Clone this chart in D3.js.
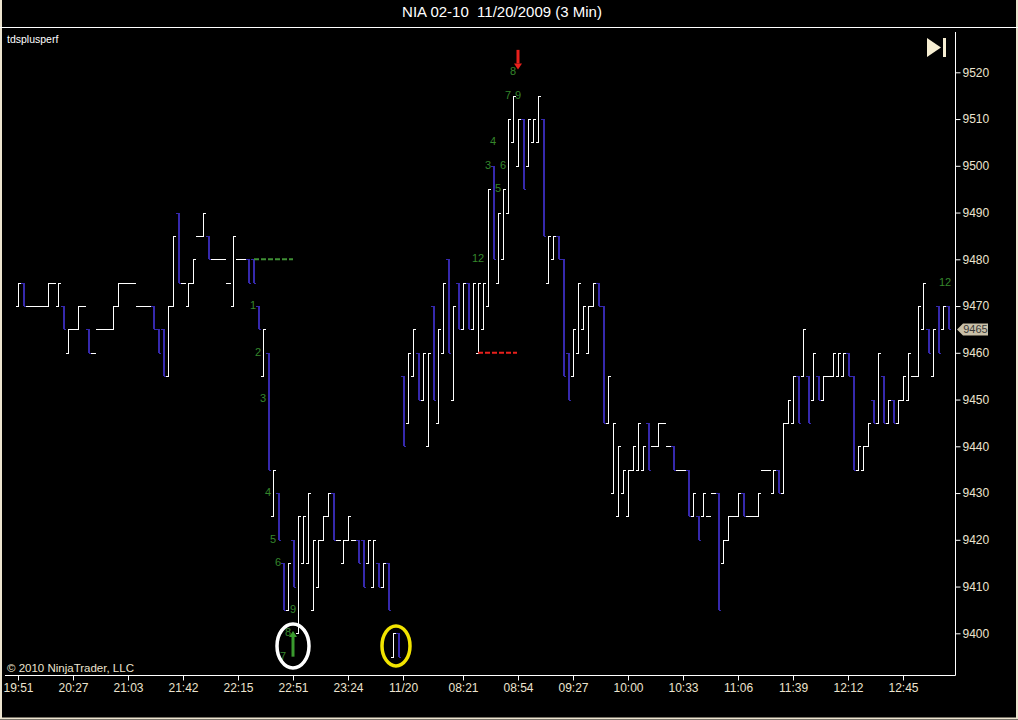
<!DOCTYPE html>
<html><head><meta charset="utf-8">
<script src="https://cdn.jsdelivr.net/npm/d3@7"></script>
<style>body{margin:0;background:#000;overflow:hidden}svg{display:block}text{font-family:"Liberation Sans",Arial,sans-serif}</style>
</head><body><svg id="c" width="1018" height="720"></svg>
<script>
const title = "NIA 02-10  11/20/2009 (3 Min)";
const indicatorName = "tdsplusperf";
const copyright = "\u00A9 2010 NinjaTrader, LLC";

const highs = [
9475,9475,9470,9470,9470,9470,9475,9475,9475,9470,
9465,9465,9470,9470,9465,9460,9465,9465,9465,9470,
9475,9475,9475,9475,9470,9470,9470,9470,9465,9465,
9470,9485,9490,9475,9475,9480,9485,9490,9485,9480,
9480,9480,9475,9485,9480,9480,9480,9480,9470,9465,
9460,9435,9430,9415,9415,9420,9425,9425,9430,9420,
9420,9425,9430,9430,9420,9420,9425,9420,9420,9420,
9420,9420,9415,9415,9415,9400,9400,9455,9460,9465,
9460,9460,9460,9470,9465,9475,9480,9470,9475,9475,
9475,9475,9475,9475,9495,9500,9490,9495,9510,9515,
9510,9510,9510,9510,9515,9510,9485,9485,9485,9480,
9460,9465,9475,9470,9470,9475,9475,9470,9455,9445,
9440,9435,9435,9440,9445,9440,9445,9440,9445,9445,
9440,9440,9435,9435,9435,9430,9425,9430,9425,9430,
9430,9420,9425,9425,9430,9430,9425,9425,9430,9435,
9435,9435,9435,9445,9450,9455,9455,9465,9455,9460,
9455,9455,9455,9460,9460,9460,9460,9455,9440,9440,
9445,9450,9460,9455,9450,9450,9450,9455,9460,9455,
9470,9475,9465,9465,9470,9470,9470];
const lows = [
9470,9470,9470,9470,9470,9470,9470,9475,9470,9465,
9460,9465,9465,9470,9460,9460,9465,9465,9465,9465,
9470,9475,9475,9475,9470,9470,9470,9465,9460,9455,
9455,9470,9475,9475,9470,9475,9485,9485,9480,9480,
9480,9480,9475,9470,9480,9480,9475,9475,9465,9455,
9435,9425,9420,9405,9405,9410,9400,9415,9415,9405,
9410,9420,9425,9420,9420,9415,9420,9420,9415,9410,
9415,9410,9410,9410,9405,9395,9395,9440,9445,9455,
9450,9450,9440,9450,9445,9460,9460,9450,9465,9465,
9465,9465,9460,9465,9470,9480,9475,9480,9490,9505,
9500,9495,9500,9505,9505,9485,9475,9480,9480,9455,
9450,9455,9460,9465,9460,9470,9470,9445,9445,9430,
9425,9430,9425,9435,9435,9435,9435,9440,9440,9445,
9440,9435,9435,9435,9425,9425,9420,9425,9425,9430,
9405,9415,9420,9425,9425,9425,9425,9425,9425,9435,
9435,9430,9430,9430,9445,9445,9445,9455,9445,9450,
9450,9450,9455,9455,9455,9455,9455,9435,9435,9435,
9440,9445,9445,9445,9445,9445,9445,9450,9450,9455,
9455,9465,9460,9455,9460,9465,9465];
const opens = [
9470,9475,9470,9470,9470,9470,9470,9475,9470,9470,
9460,9465,9465,9470,9465,9460,9465,9465,9465,9465,
9470,9475,9475,9475,9470,9470,9470,9470,9465,9465,
9455,9470,9490,9475,9470,9475,9485,9485,9485,9480,
9480,9480,9475,9470,9480,9480,9480,9480,9470,9455,
9460,9425,9430,9415,9405,9420,9400,9415,9415,9405,
9410,9420,9425,9430,9420,9415,9420,9420,9420,9420,
9415,9410,9415,9410,9415,9395,9400,9455,9445,9455,
9460,9450,9440,9470,9445,9460,9480,9450,9475,9465,
9475,9465,9460,9465,9470,9500,9475,9480,9490,9505,
9500,9510,9500,9505,9505,9510,9475,9480,9485,9480,
9460,9455,9460,9465,9460,9470,9475,9470,9445,9430,
9425,9430,9425,9435,9435,9435,9445,9440,9440,9445,
9440,9440,9435,9435,9435,9425,9425,9425,9425,9430,
9430,9415,9420,9425,9425,9430,9425,9425,9425,9435,
9435,9430,9435,9430,9445,9445,9455,9455,9455,9450,
9455,9450,9455,9455,9455,9455,9460,9455,9435,9435,
9440,9450,9445,9455,9445,9450,9445,9450,9450,9455,
9455,9465,9465,9455,9470,9465,9470];
const closes = [
9475,9470,9470,9470,9470,9470,9475,9475,9475,9465,
9465,9465,9470,9470,9460,9460,9465,9465,9465,9470,
9475,9475,9475,9475,9470,9470,9470,9465,9460,9455,
9470,9485,9475,9475,9475,9480,9485,9490,9480,9480,
9480,9480,9475,9485,9480,9480,9475,9475,9465,9465,
9435,9435,9420,9405,9415,9410,9425,9425,9430,9420,
9420,9425,9430,9420,9420,9420,9425,9420,9415,9410,
9420,9420,9410,9415,9405,9400,9395,9440,9460,9465,
9450,9460,9460,9450,9465,9475,9460,9470,9465,9475,
9465,9475,9475,9475,9495,9480,9490,9495,9510,9515,
9510,9495,9510,9510,9515,9485,9485,9485,9480,9455,
9450,9465,9475,9470,9470,9475,9470,9445,9455,9445,
9440,9435,9435,9440,9445,9440,9435,9440,9445,9445,
9440,9435,9435,9435,9425,9430,9420,9430,9425,9430,
9405,9420,9425,9425,9430,9425,9425,9425,9430,9435,
9435,9435,9430,9445,9450,9455,9445,9465,9445,9460,
9450,9455,9455,9460,9460,9460,9455,9435,9440,9440,
9445,9445,9460,9445,9450,9445,9450,9455,9460,9455,
9470,9475,9460,9465,9460,9470,9465];

const timeTickBars = [0,11,22,33,44,55,66,77,89,100,111,122,133,144,155,166,177];
const timeTickLabels = ["19:51","20:27","21:03","21:42","22:15","22:51","23:24","11/20","08:21","08:54","09:27","10:00","10:33","11:06","11:39","12:12","12:45"];
const priceTicks = [9400,9410,9420,9430,9440,9450,9460,9470,9480,9490,9500,9510,9520];
const lastPrice = 9465;

// TD sequential counts: label, bar index, price level
const countLabels = ["1","2","3","4","5","6","7","8","9","12","3","4","5","6","7","8","9","12"];
const countBars   = [47,48,49,50,51,52,53,54,55,92,94,95,96,97,98,99,100,185.4];
const countPrices = [9470,9460,9450,9430,9420,9415,9395,9400,9405,9480,9500,9505,9495,9500,9515,9520,9515,9475];

// TDST lines
const tdstStart = [47.2, 92];
const tdstEnd   = [55, 99.8];
const tdstPrice = [9480, 9460];
const tdstColor = ["#3f8f35", "#e8201c"];

// arrows: bar, tail price, head price
const arrowBars = [100, 55];
const arrowTail = [9524.8, 9395];
const arrowHead = [9520.6, 9400.5];
const arrowColor = ["#e8201c", "#3a9a2e"];

// highlight ellipses
const ringBars = [55, 75.6];
const ringPrices = [9397.3, 9397.3];
const ringColors = ["#ffffff", "#f2e400"];

const cream = "#ece4cf";
const svg = d3.select("#c");
svg.append("rect").attr("width",1018).attr("height",720).attr("fill","#000");

const x = d3.scaleLinear().domain([0, highs.length-1]).range([18, 948]);
const y = d3.scaleLinear().domain([9400, 9520]).range([633.3, 72.3]);

// frame
svg.append("rect").attr("x",1).attr("y",-2).attr("width",1016).attr("height",720.5)
  .attr("fill","none").attr("stroke",cream).attr("stroke-width",2);
svg.append("line").attr("x1",0).attr("x2",1018).attr("y1",27.5).attr("y2",27.5)
  .attr("stroke","#fff").attr("stroke-width",1.2);

svg.append("text").attr("x",502).attr("y",13).attr("text-anchor","middle").attr("dominant-baseline","middle")
  .attr("fill","#fff").attr("font-size",15).style("white-space","pre").text(title);
svg.append("text").attr("x",7).attr("y",40).attr("dominant-baseline","middle")
  .attr("fill","#fff").attr("font-size",10.5).text(indicatorName);
svg.append("text").attr("x",7).attr("y",672).attr("fill",cream).attr("font-size",11.5).text(copyright);

// play-to-end icon
svg.append("path").attr("d","M927,38L941,47.5L927,57Z").attr("fill","#f6eed2");
svg.append("rect").attr("x",943).attr("y",38).attr("width",3).attr("height",19).attr("fill","#f6eed2");

// right price axis
const ya = svg.append("g").attr("transform","translate(955.5,0)")
  .call(d3.axisRight(y).tickValues(priceTicks).tickSize(5).tickPadding(2).tickFormat(d3.format("d")));
ya.select(".domain").remove();
ya.selectAll("line").attr("stroke","#fff");
ya.selectAll("text").attr("fill",cream).attr("font-size",12).attr("font-family","Liberation Sans, Arial");
svg.append("line").attr("x1",955.5).attr("x2",955.5).attr("y1",32).attr("y2",675.5).attr("stroke","#fff");

// bottom time axis
const xa = svg.append("g").attr("transform","translate(0,675.5)")
  .call(d3.axisBottom(x).tickValues(timeTickBars).tickSize(5).tickPadding(3)
    .tickFormat((d,i)=>timeTickLabels[i]));
xa.select(".domain").remove();
xa.selectAll("line").attr("stroke","#fff");
xa.selectAll("text").attr("fill",cream).attr("font-size",12).attr("font-family","Liberation Sans, Arial");
svg.append("line").attr("x1",5).attr("x2",955.5).attr("y1",675.5).attr("y2",675.5).attr("stroke","#fff");

// OHLC bars
const bars = d3.range(highs.length).map(i=>({i,o:opens[i],h:highs[i],l:lows[i],c:closes[i]}));
const colorOf = d => d.c < d.o ? "#3629ad" : "#ffffff";
const g = svg.append("g").attr("shape-rendering","crispEdges");
const bg = g.selectAll("g.bar").data(bars).join("g").attr("class","bar");
bg.append("line").attr("x1",d=>Math.round(x(d.i))+0.5).attr("x2",d=>Math.round(x(d.i))+0.5)
  .attr("y1",d=>y(d.h)).attr("y2",d=>y(d.l)+ (d.h===d.l?0.01:0))
  .attr("stroke",colorOf).attr("stroke-width",d=>d.c<d.o?2:1);
bg.append("line").attr("x1",d=>Math.round(x(d.i))-2).attr("x2",d=>Math.round(x(d.i))+0.5)
  .attr("y1",d=>Math.round(y(d.o))+0.5).attr("y2",d=>Math.round(y(d.o))+0.5).attr("stroke",colorOf);
bg.append("line").attr("x1",d=>Math.round(x(d.i))+0.5).attr("x2",d=>Math.round(x(d.i))+3)
  .attr("y1",d=>Math.round(y(d.c))+0.5).attr("y2",d=>Math.round(y(d.c))+0.5).attr("stroke",colorOf);

// TDST lines
svg.selectAll("line.tdst").data(tdstPrice).join("line").attr("class","tdst")
  .attr("x1",(d,i)=>x(tdstStart[i])).attr("x2",(d,i)=>x(tdstEnd[i]))
  .attr("y1",d=>y(d)).attr("y2",d=>y(d))
  .attr("stroke",(d,i)=>tdstColor[i]).attr("stroke-width",2).attr("stroke-dasharray","5,2");

// counts
svg.selectAll("text.cnt").data(countLabels).join("text").attr("class","cnt")
  .attr("x",(d,i)=>x(countBars[i])).attr("y",(d,i)=>y(countPrices[i]))
  .attr("text-anchor","middle").attr("dominant-baseline","middle")
  .attr("fill","#35862c").attr("font-size",11).text(d=>d);

// arrows
arrowBars.forEach((b,i)=>{
  const ax = x(b), y0 = y(arrowTail[i]), y1 = y(arrowHead[i]);
  const dir = y1 > y0 ? 1 : -1;
  const hy = y1 - dir*6;
  svg.append("line").attr("x1",ax).attr("x2",ax).attr("y1",y0).attr("y2",hy)
    .attr("stroke",arrowColor[i]).attr("stroke-width",3);
  svg.append("path").attr("d",`M${ax-4},${hy}L${ax+4},${hy}L${ax},${y1}Z`).attr("fill",arrowColor[i]);
});

// highlight rings
svg.selectAll("ellipse.ring").data(ringBars).join("ellipse").attr("class","ring")
  .attr("cx",d=>x(d)).attr("cy",(d,i)=>y(ringPrices[i]))
  .attr("rx",(d,i)=>i===0?16:14).attr("ry",(d,i)=>i===0?22:20)
  .attr("fill","none").attr("stroke",(d,i)=>ringColors[i]).attr("stroke-width",3.5);

// last price marker
const ly = y(lastPrice);
svg.append("path").attr("d",`M957,${ly}L963,${ly-6}L988,${ly-6}L988,${ly+6}L963,${ly+6}Z`).attr("fill","#c9c0a8");
svg.append("text").attr("x",975.5).attr("y",ly+0.5).attr("text-anchor","middle").attr("dominant-baseline","middle")
  .attr("fill","#3a3a3a").attr("font-size",11).text(d3.format("d")(lastPrice));
</script></body></html>
